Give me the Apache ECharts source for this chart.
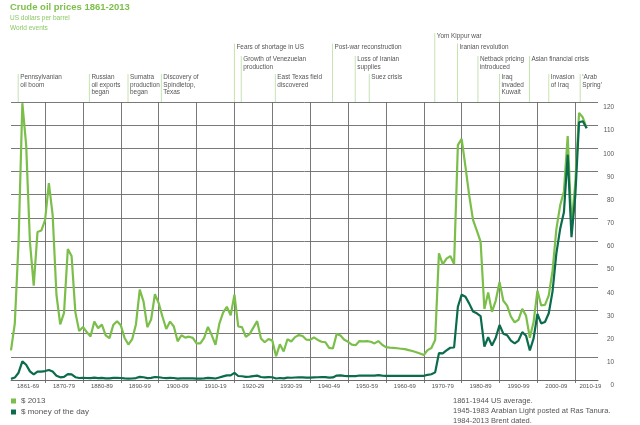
<!DOCTYPE html>
<html>
<head>
<meta charset="UTF-8">
<title>Crude oil prices 1861-2013</title>
<style>
  * { margin: 0; padding: 0; }
  html, body { width: 100%; height: 100%; background: #fff; }
  #chart { width: 640px; height: 425px; }
</style>
<script src="https://cdn.jsdelivr.net/npm/echarts@6.0.0/dist/echarts.min.js"></script>
</head>
<body>
<div id="chart"></div>
<script>
  var firstYear = 1861;

  // $ 2013, one value per year 1861-2013
  var price2013 = [
    12.8, 24.3, 59.7, 119.5, 101.5, 59.6, 40.7, 63.9, 64.5, 69.0,
    85.0, 71.2, 36.8, 24.0, 29.0, 56.5, 53.5, 29.2, 21.1, 22.9,
    20.7, 18.8, 25.2, 22.4, 23.9, 19.3, 18.1, 23.7, 25.4, 23.6,
    18.1, 15.3, 17.6, 24.1, 39.0, 33.8, 22.8, 26.1, 37.0, 33.2,
    27.3, 22.0, 25.2, 23.1, 16.7, 19.3, 18.3, 18.7, 18.2, 15.8,
    15.8, 18.2, 22.9, 19.4, 15.2, 24.2, 29.1, 31.6, 27.9, 36.8,
    23.1, 22.8, 18.6, 19.8, 22.6, 25.4, 17.9, 16.3, 17.7, 17.0,
    10.3, 15.4, 12.3, 17.6, 16.6, 18.5, 19.4, 19.0, 17.4, 17.3,
    18.4, 17.3, 16.5, 16.3, 13.9, 13.6, 19.9, 19.2, 17.4, 16.5,
    15.3, 15.0, 16.8, 16.7, 16.8, 16.5, 15.8, 16.8, 15.2, 14.2,
    14.0, 13.9, 13.7, 13.5, 13.3, 12.9, 12.5, 12.0, 11.4, 10.8,
    12.9, 13.8, 17.3, 54.7, 49.9, 52.4, 53.5, 50.1, 101.4, 104.1,
    92.1, 79.6, 69.1, 64.5, 59.7, 30.7, 37.8, 29.4, 34.3, 42.3,
    34.2, 32.1, 27.4, 24.9, 26.0, 30.7, 27.7, 18.2, 25.1, 38.6,
    32.2, 32.4, 36.5, 47.2, 65.0, 75.3, 81.4, 105.3, 67.0, 84.9,
    115.3, 113.3, 108.7
  ];

  // $ money of the day, 1861-2013
  var priceMoney = [
    0.49, 1.05, 3.15, 8.06, 6.59, 3.74, 2.41, 3.62, 3.64, 3.86,
    4.34, 3.64, 1.83, 1.17, 1.35, 2.56, 2.42, 1.19, 0.86, 0.95,
    0.86, 0.78, 1.00, 0.84, 0.88, 0.71, 0.67, 0.88, 0.94, 0.87,
    0.67, 0.56, 0.64, 0.84, 1.36, 1.18, 0.79, 0.91, 1.29, 1.19,
    0.96, 0.80, 0.94, 0.86, 0.62, 0.73, 0.72, 0.72, 0.70, 0.61,
    0.61, 0.74, 0.95, 0.81, 0.64, 1.10, 1.56, 1.98, 2.01, 3.07,
    1.73, 1.61, 1.34, 1.43, 1.68, 1.88, 1.30, 1.17, 1.27, 1.19,
    0.65, 0.87, 0.67, 1.00, 0.97, 1.09, 1.18, 1.13, 1.02, 1.02,
    1.14, 1.19, 1.20, 1.21, 1.05, 1.12, 1.90, 1.99, 1.78, 1.71,
    1.71, 1.71, 1.93, 1.93, 1.93, 1.93, 1.90, 2.08, 1.90, 1.80,
    1.80, 1.80, 1.80, 1.80, 1.80, 1.80, 1.80, 1.80, 1.80, 1.80,
    2.24, 2.48, 3.29, 11.58, 11.53, 12.80, 13.92, 14.02, 31.61, 36.83,
    35.93, 32.97, 29.55, 28.78, 27.56, 14.43, 18.44, 14.92, 18.23, 23.73,
    20.00, 19.32, 16.97, 15.82, 17.02, 20.67, 19.09, 12.72, 17.97, 28.50,
    24.44, 25.02, 28.83, 38.27, 54.52, 65.14, 72.39, 97.26, 61.67, 79.50,
    111.26, 111.67, 108.66
  ];

  var decadeLines = [1870, 1880, 1890, 1900, 1910, 1920, 1930, 1940, 1950, 1960, 1970, 1980, 1990, 2000, 2010];
  var decadeLabelAt = [1865.5, 1875, 1885, 1895, 1905, 1915, 1925, 1935, 1945, 1955, 1965, 1975, 1985, 1995, 2005, 2014];
  var decadeLabels = ['1861-69', '1870-79', '1880-89', '1890-99', '1900-09', '1910-19', '1920-29', '1930-39',
    '1940-49', '1950-59', '1960-69', '1970-79', '1980-89', '1990-99', '2000-09', '2010-19'];

  // world events: name, year, height of the marker above the plot
  var eventNames = [
    'Pennsylvanian\noil boom', 'Russian\noil exports\nbegan', 'Sumatra\nproduction\nbegan',
    'Discovery of\nSpindletop,\nTexas', 'Fears of shortage in US', 'Growth of Venezuelan\nproduction',
    'East Texas field\ndiscovered', 'Post-war reconstruction', 'Loss of Iranian\nsupplies', 'Suez crisis',
    'Yom Kippur war', 'Iranian revolution', 'Netback pricing\nintroduced', 'Iraq\ninvaded\nKuwait',
    'Asian financial crisis', 'Invasion\nof Iraq', '\u2018Arab\nSpring\u2019'
  ];
  var eventYears = [1862.9, 1881.7, 1891.9, 1900.7, 1920, 1921.8, 1930.8, 1945.9, 1951.9, 1955.6,
    1972.9, 1978.9, 1984.3, 1990, 1997.9, 2003, 2011.3];
  var eventLevels = [28, 28, 28, 28, 58.5, 46, 28, 58.5, 46, 28, 69, 58.5, 46, 28, 46, 28, 28];

  var lightGreen = '#7bbf4a';
  var darkGreen = '#0b6b4d';
  var gridGrey = '#6a6a6a';
  var font = '"Liberation Sans", Arial, sans-serif';

  var chart = echarts.init(document.getElementById('chart'));

  var option = {
    backgroundColor: '#fff',
    animation: false,
    textStyle: { fontFamily: font },
    title: [{
      text: 'Crude oil prices 1861-2013',
      subtext: 'US dollars per barrel\nWorld events',
      left: 10,
      top: 2,
      padding: 0,
      itemGap: 2,
      textStyle: { fontFamily: font, fontSize: 9.5, fontWeight: 'bold', color: '#7cbf4a' },
      subtextStyle: { fontFamily: font, fontSize: 6.5, color: '#8cc866', lineHeight: 9.2 }
    }, {
      text: '1861-1944 US average.\n1945-1983 Arabian Light posted at Ras Tanura.\n1984-2013 Brent dated.',
      left: 453,
      top: 396,
      padding: 0,
      textStyle: { fontFamily: font, fontSize: 7.5, fontWeight: 'normal', color: '#555', lineHeight: 10 }
    }],
    legend: {
      orient: 'vertical',
      left: 11,
      top: 397,
      padding: 0,
      icon: 'rect',
      itemWidth: 5,
      itemHeight: 5,
      itemGap: 3,
      textStyle: { fontFamily: font, fontSize: 8, color: '#555' },
      data: ['$ 2013', '$ money of the day']
    },
    grid: [
      { left: 11, right: 42, top: 102, bottom: 45 },
      { left: 11, right: 42, top: 32, height: 70 }
    ],
    xAxis: [{
      type: 'value',
      gridIndex: 0,
      min: 1861,
      max: 2016,
      axisLine: { show: true, lineStyle: { color: gridGrey, width: 0.9 } },
      axisTick: { show: true, length: 3, customValues: decadeLines, lineStyle: { color: gridGrey, width: 0.9 } },
      splitLine: { show: true, lineStyle: { color: gridGrey, width: 0.9 } },
      axisLabel: {
        customValues: decadeLabelAt,
        margin: 3,
        fontSize: 6,
        color: '#555',
        formatter: function (v) {
          var i = decadeLabelAt.indexOf(v);
          return i >= 0 ? decadeLabels[i] : '';
        }
      }
    }, {
      type: 'value',
      gridIndex: 1,
      min: 1861,
      max: 2016,
      show: false
    }],
    yAxis: [{
      type: 'value',
      gridIndex: 0,
      position: 'right',
      min: 0,
      max: 120,
      interval: 10,
      axisLine: { show: false },
      axisTick: { show: false },
      splitLine: { show: true, lineStyle: { color: gridGrey, width: 0.9 } },
      axisLabel: {
        align: 'right',
        verticalAlign: 'top',
        padding: [2.5, 0, 0, 0],
        margin: 16,
        fontSize: 6.4,
        color: '#555'
      }
    }, {
      type: 'value',
      gridIndex: 1,
      min: 0,
      max: 70,
      show: false
    }],
    series: [{
      name: '$ 2013',
      type: 'line',
      xAxisIndex: 0,
      yAxisIndex: 0,
      showSymbol: false,
      symbol: 'none',
      color: lightGreen,
      lineStyle: { width: 2.2, color: lightGreen },
      data: price2013.map(function (v, i) { return [firstYear + i, v]; })
    }, {
      name: '$ money of the day',
      type: 'line',
      xAxisIndex: 0,
      yAxisIndex: 0,
      showSymbol: false,
      symbol: 'none',
      color: darkGreen,
      lineStyle: { width: 2.2, color: darkGreen },
      data: priceMoney.map(function (v, i) { return [firstYear + i, v]; })
    }, {
      name: 'events',
      type: 'custom',
      xAxisIndex: 1,
      yAxisIndex: 1,
      clip: false,
      silent: true,
      data: eventYears.map(function (y, i) { return [y, eventLevels[i]]; }),
      renderItem: function (params, api) {
        var top = api.coord([api.value(0), api.value(1)]);
        var base = api.coord([api.value(0), 0]);
        return {
          type: 'group',
          children: [{
            type: 'line',
            shape: { x1: top[0], y1: top[1], x2: base[0], y2: base[1] },
            style: { stroke: '#b9dc9c', lineWidth: 0.8 }
          }, {
            type: 'text',
            x: top[0] + 2,
            y: top[1],
            style: {
              text: eventNames[params.dataIndex],
              fill: '#555',
              fontFamily: font,
              fontSize: 6.4,
              lineHeight: 7.3,
              align: 'left',
              verticalAlign: 'top'
            }
          }]
        };
      }
    }]
  };

  chart.setOption(option);
</script>
</body>
</html>
